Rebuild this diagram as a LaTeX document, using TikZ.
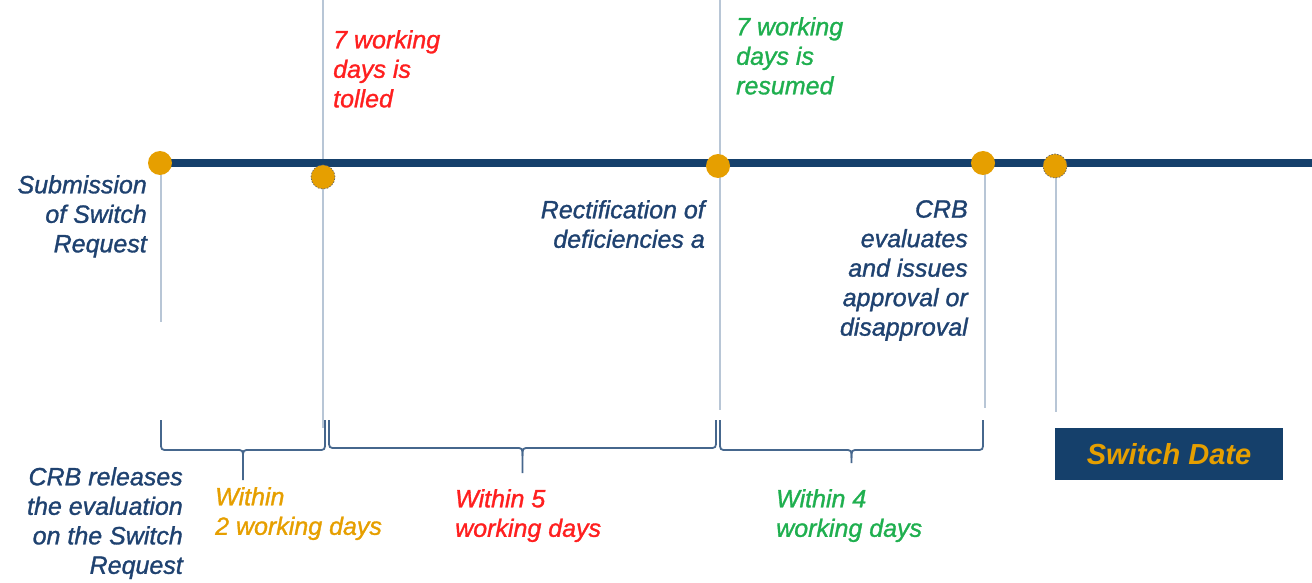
\documentclass[tikz,border=0pt]{standalone}
\usepackage{fontspec}
\setmainfont{Liberation Sans}[ItalicFeatures={FakeBold=1.2}]
\definecolor{navy}{HTML}{15406B}
\definecolor{textnavy}{HTML}{1F4270}
\definecolor{dotorange}{HTML}{E69F00}
\definecolor{alertred}{HTML}{FF1F1F}
\definecolor{okgreen}{HTML}{1FAF4F}
\definecolor{guidegray}{HTML}{B8C6D6}
\definecolor{bracecol}{HTML}{46678D}
% curly brace: #1 left x, #2 right x, #3 top of the ends, #4 level of the bar, #5 end of the stem
\newcommand{\spanbrace}[5]{%
  \pgfmathsetmacro{\bmid}{(#1+#2)/2}%
  \draw[bracebar] (#1,#3) -- (#1,#4-8) .. controls (#1,#4) .. (#1+7,#4)
    -- (\bmid-7,#4) .. controls (\bmid,#4) .. (\bmid,#4+8) -- (\bmid,#5);
  \draw[bracebar] (\bmid,#4+8) .. controls (\bmid,#4) .. (\bmid+7,#4)
    -- (#2-7,#4) .. controls (#2,#4) .. (#2,#4-8) -- (#2,#3);
}
\begin{document}
\begin{tikzpicture}[x=1pt,y=-1pt,
  milestone/.style={circle,fill=dotorange,minimum size=24pt,inner sep=0pt},
  pending/.style={milestone,draw=black!60,dash pattern=on 1.5pt off 1.5pt,line width=0.7pt},
  guide/.style={draw=guidegray,line width=1.8pt},
  timeline/.style={draw=navy,line width=8pt},
  bracebar/.style={draw=bracecol,line width=1.8pt,line join=round},
  lbl/.style={inner sep=0pt,font=\fontsize{25}{29.5}\selectfont\itshape},
  navylbl/.style={lbl,text=textnavy},
  redlbl/.style={lbl,text=alertred},
  greenlbl/.style={lbl,text=okgreen},
  orangelbl/.style={lbl,text=dotorange},
  datebox/.style={fill=navy,minimum width=228pt,minimum height=52pt,inner sep=0pt,
    text=dotorange,font=\fontsize{29}{33}\selectfont\bfseries\itshape}
]
\useasboundingbox (0,0) rectangle (1312,583);

% milestone positions
\coordinate (startpt) at (160,163);
\coordinate (lineend) at (1312,163);
\coordinate (tollpt) at (323,177);
\coordinate (rectpt) at (718,166);
\coordinate (evalpt) at (983,163);
\coordinate (switchpt) at (1055,166);

% guide lines
\coordinate (g1b) at (161,322);
\coordinate (g2t) at (323,0);   \coordinate (g2b) at (323,428);
\coordinate (g3t) at (720,0);   \coordinate (g3b) at (720,410);
\coordinate (g4b) at (985,408);
\coordinate (g5b) at (1056,412);
\draw[guide] (161,163) -- (g1b);
\draw[guide] (g2t) -- (g2b);
\draw[guide] (g3t) -- (g3b);
\draw[guide] (985,163) -- (g4b);
\draw[guide] (1056,166) -- (g5b);

% time line
\draw[timeline] (startpt) -- (lineend);

% milestones
\node[milestone] (m1) at (startpt) {};
\node[pending]   (m2) at (tollpt) {};
\node[milestone] (m3) at (rectpt) {};
\node[milestone] (m4) at (evalpt) {};
\node[pending]   (m5) at (switchpt) {};

% event labels
\node[navylbl,align=right,anchor=north east] (submit) at (147,175)
  {Submission\\of Switch\\Request};
\node[redlbl,align=left,anchor=north west] (tolled) at (333,30)
  {7 working\\days is\\tolled};
\node[greenlbl,align=left,anchor=north west] (resumed) at (736,17)
  {7 working\\days is\\resumed};
\node[navylbl,align=right,anchor=north east] (rectify) at (705,200)
  {Rectification of\\deficiencies a};
\node[navylbl,align=right,anchor=north east] (evaluate) at (968,200)
  {CRB\\evaluates\\and issues\\approval or\\disapproval};
\node[navylbl,align=right,anchor=north east] (release) at (183,467)
  {CRB releases\\the evaluation\\on the Switch\\Request};

% interval braces
\spanbrace{161}{325}{420}{450}{480}
\spanbrace{329}{716}{420}{448}{473}
\spanbrace{720}{983}{420}{450}{463}

% interval labels
\node[orangelbl,align=left,anchor=north west] (within2) at (215,487)
  {Within\\2 working days};
\node[redlbl,align=left,anchor=north west] (within5) at (455,489)
  {Within 5\\working days};
\node[greenlbl,align=left,anchor=north west] (within4) at (776,489)
  {Within 4\\working days};

% switch date
\node[datebox] (switchdate) at (1169,454) {Switch Date};
\end{tikzpicture}
\end{document}
